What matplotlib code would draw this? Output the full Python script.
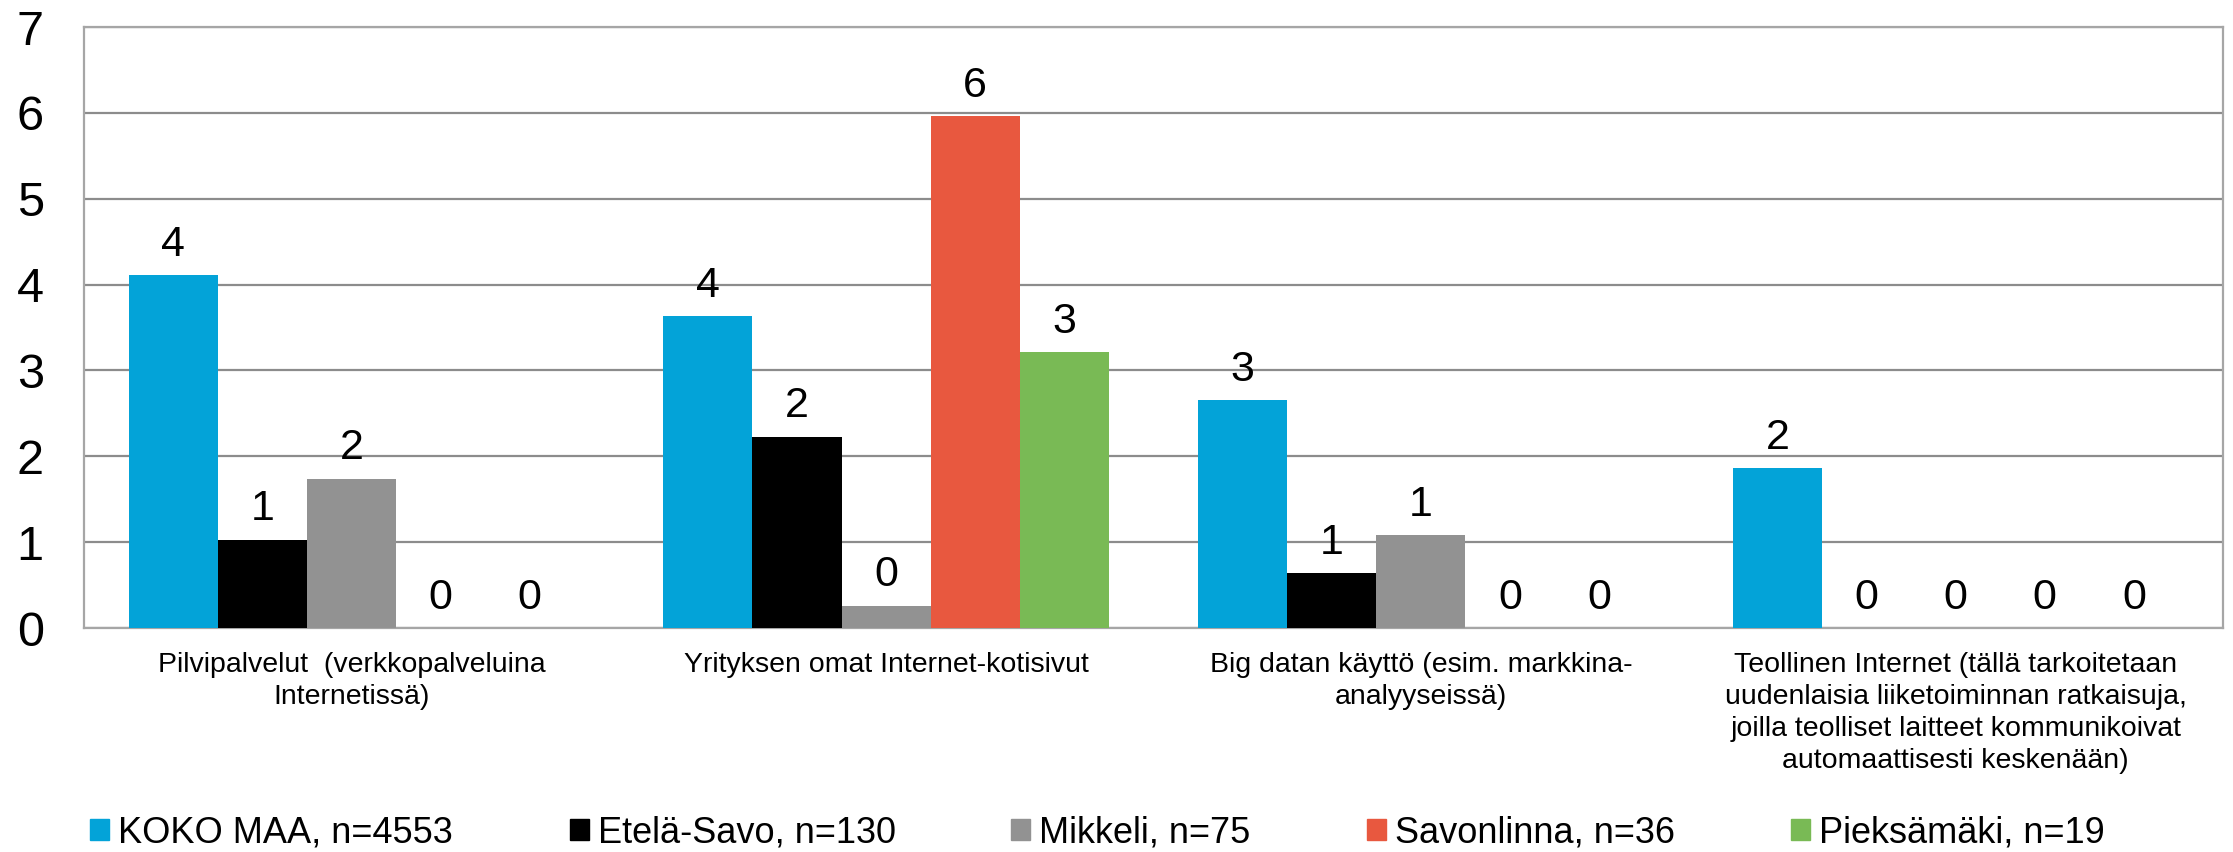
import numpy as np
import matplotlib
matplotlib.use("Agg")
import matplotlib.pyplot as plt
from matplotlib.patches import Patch

plt.rcParams['font.family'] = ['Liberation Sans', 'DejaVu Sans']

categories = [
    "Pilvipalvelut  (verkkopalveluina\nInternetissä)",
    "Yrityksen omat Internet-kotisivut",
    "Big datan käyttö (esim. markkina-\nanalyyseissä)",
    "Teollinen Internet (tällä tarkoitetaan\nuudenlaisia liiketoiminnan ratkaisuja,\n"
    "joilla teolliset laitteet kommunikoivat\nautomaattisesti keskenään)",
]
series = [
    "KOKO MAA, n=4553",
    "Etelä-Savo, n=130",
    "Mikkeli, n=75",
    "Savonlinna, n=36",
    "Pieksämäki, n=19",
]
koko_maa = [4.11, 3.63, 2.65, 1.86]
etela_savo = [1.03, 2.23, 0.64, 0.0]
mikkeli = [1.74, 0.26, 1.08, 0.0]
savonlinna = [0.0, 5.96, 0.0, 0.0]
pieksamaki = [0.0, 3.21, 0.0, 0.0]
colors = ['#03A3D8', '#000000', '#929292', '#E8583F', '#79BA55']

values = [koko_maa, etela_savo, mikkeli, savonlinna, pieksamaki]

W, H = 2233, 852
fig = plt.figure(figsize=(W / 100, H / 100), dpi=100)
ax = fig.add_axes([84 / W, 1 - 628 / H, (2223 - 84) / W, (628 - 27) / H])

x = np.arange(len(categories))
w = 1 / 6
for i, (vals, col) in enumerate(zip(values, colors)):
    pos = x + (i - 2) * w
    ax.bar(pos, vals, width=w, color=col, zorder=3)
    for px, v in zip(pos, vals):
        ax.annotate(f"{v:.0f}", (px, v), xytext=(0, 14), textcoords='offset points',
                    ha='center', va='baseline', fontsize=31, zorder=4)

ax.set_xlim(-0.5, len(categories) - 0.5)
ax.set_ylim(0, 7)
ax.set_yticks(range(8))
ax.set_xticks(x)
ax.set_xticklabels(categories, fontsize=20.5, linespacing=1.3)
ax.tick_params(axis='y', length=0, pad=29, labelsize=35)
ax.tick_params(axis='x', length=0, pad=17)
ax.grid(axis='y', color='#8C8C8C', linewidth=1.6, zorder=0)
for s in ax.spines.values():
    s.set_color('#A6A6A6')
    s.set_linewidth(1.6)

# legend entries sit at fixed positions, as in the original
legend_x = [90, 570, 1011, 1367, 1791]
for lx, name, col in zip(legend_x, series, colors):
    leg = fig.legend([Patch(color=col)], [name], loc='center left',
                     bbox_to_anchor=(lx / W, 1 - 833 / H), frameon=False, fontsize=26,
                     borderpad=0, borderaxespad=0, handlelength=0.53, handleheight=0.53,
                     handletextpad=0.25)

fig.savefig("out.png", dpi=100)
